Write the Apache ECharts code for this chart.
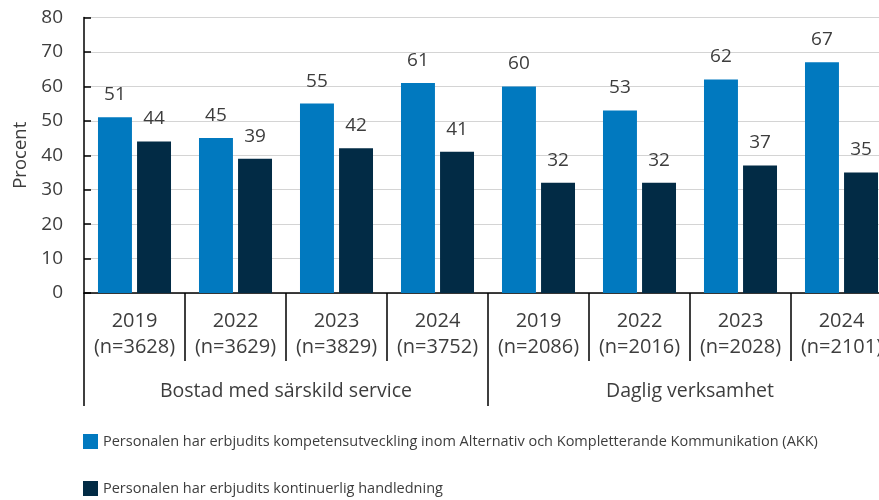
<!DOCTYPE html>
<html>
<head>
<meta charset="utf-8">
<script src="https://cdn.jsdelivr.net/npm/echarts@6/dist/echarts.min.js"></script>
<style>
  html, body { margin: 0; padding: 0; background: #fff; }
  #main { width: 879px; height: 500px; }
</style>
</head>
<body>
<div id="main"></div>
<script>
// kategorier och värden
var years = ['2019', '2022', '2023', '2024', '2019', '2022', '2023', '2024'];
var nValues = ['3628', '3629', '3829', '3752', '2086', '2016', '2028', '2101'];
var groups = ['Bostad med särskild service', 'Daglig verksamhet'];
var akk = [51, 45, 55, 61, 60, 53, 62, 67];
var handledning = [44, 39, 42, 41, 32, 32, 37, 35];
var seriesNames = [
    'Personalen har erbjudits kompetensutveckling inom Alternativ och Kompletterande Kommunikation (AKK)',
    'Personalen har erbjudits kontinuerlig handledning'
];
var seriesColors = ['#0179bf', '#022b45'];

var textColor = '#3d3d3d';
var font = '"Open Sans", "Noto Sans", sans-serif';

var categories = years.map(function(y, i){
    return y + '\n(n=' + nValues[i] + ')';
});

// en legend per serie, så de hamnar under varandra
function makeLegend(i, top){
    return {
        orient: 'horizontal',
        left: 83,
        top: top,
        padding: 0,
        itemWidth: 15,
        itemHeight: 15,
        icon: 'rect',
        selectedMode: false,
        textStyle: { fontSize: 14.5, color: textColor, fontFamily: font },
        data: [seriesNames[i]]
    };
}

function barSeries(i, data){
    return {
        name: seriesNames[i],
        type: 'bar',
        data: data,
        barGap: '15%',
        barCategoryGap: '27.7%',
        itemStyle: { color: seriesColors[i] },
        label: { show: true, position: 'top', distance: 13, fontSize: 19, color: textColor, fontFamily: font }
    };
}

var myChart = echarts.init(document.getElementById('main'));
var option = {
    animation: false,
    textStyle: { fontFamily: font },
    grid: {
        left: 84,
        top: 17.5,
        width: 808,
        height: 275.5,
        containLabel: false,
        outerBoundsMode: 'none'
    },
    legend: [makeLegend(0, 434), makeLegend(1, 481)],
    xAxis: [
        {
            type: 'category',
            data: categories,
            axisLine: { lineStyle: { color: '#000', width: 1.5 } },
            axisTick: { show: true, interval: 0, length: 68, lineStyle: { color: '#000', width: 1.5 } },
            axisLabel: {
                interval: 0,
                margin: 15,
                fontSize: 20,
                lineHeight: 26,
                color: textColor,
                fontFamily: font
            }
        },
        {
            type: 'category',
            data: groups,
            position: 'bottom',
            axisLine: { show: false },
            axisTick: { show: true, interval: 0, length: 113, lineStyle: { color: '#000', width: 1.5 } },
            axisLabel: {
                interval: 0,
                margin: 88,
                fontSize: 19.5,
                color: textColor,
                fontFamily: font
            }
        }
    ],
    yAxis: {
        type: 'value',
        min: 0,
        max: 80,
        interval: 10,
        name: 'Procent',
        nameLocation: 'middle',
        nameGap: 51,
        nameRotate: 90,
        nameTextStyle: { fontSize: 18.5, color: textColor, fontFamily: font },
        axisLine: { show: true, lineStyle: { color: '#000', width: 1.5 } },
        axisTick: { show: true, inside: true, length: 7, lineStyle: { color: '#000', width: 1.5 } },
        axisLabel: { fontSize: 19, color: textColor, margin: 21, fontFamily: font },
        splitLine: { lineStyle: { color: '#d4d4d4', width: 1 } }
    },
    series: [barSeries(0, akk), barSeries(1, handledning)]
};
myChart.setOption(option);
</script>
</body>
</html>
